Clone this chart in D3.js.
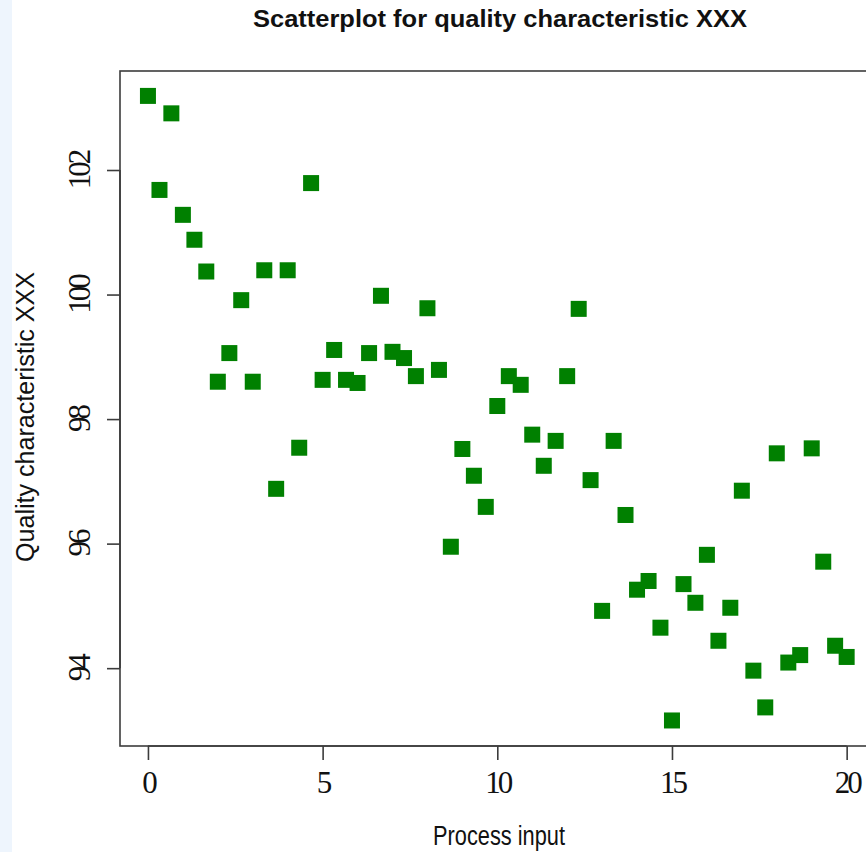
<!DOCTYPE html>
<html>
<head>
<meta charset="utf-8">
<script src="https://cdn.jsdelivr.net/npm/d3@7"></script>
<style>
  body { margin: 0; background: #fff; }
  svg { display: block; }
</style>
</head>
<body>
<div class="container"></div>
<script>
// Process input (x) for each observation
const processInput = [
  0, 0.33, 0.67, 1, 1.33, 1.67, 2, 2.33, 2.67, 3,
  3.33, 3.67, 4, 4.33, 4.67, 5, 5.33, 5.67, 6, 6.33,
  6.67, 7, 7.33, 7.67, 8, 8.33, 8.67, 9, 9.33, 9.67,
  10, 10.33, 10.67, 11, 11.33, 11.67, 12, 12.33, 12.67, 13,
  13.33, 13.67, 14, 14.33, 14.67, 15, 15.33, 15.67, 16, 16.33,
  16.67, 17, 17.33, 17.67, 18, 18.33, 18.67, 19, 19.33, 19.67,
  20
];

// Quality characteristic XXX (y)
const quality = [
  103.19, 101.68, 102.91, 101.28, 100.88, 100.37, 98.6, 99.06, 99.91, 98.6,
  100.39, 96.88, 100.39, 97.54, 101.79, 98.63, 99.11, 98.63, 98.58, 99.06,
  99.98, 99.08, 98.98, 98.69, 99.78, 98.79, 95.95, 97.52, 97.09, 96.59,
  98.21, 98.69, 98.55, 97.75, 97.25, 97.65, 98.69, 99.77, 97.02, 94.92,
  97.65, 96.46, 95.26, 95.4, 94.65, 93.16, 95.35, 95.05, 95.82, 94.44,
  94.97, 96.85, 93.96, 93.37, 97.45, 94.09, 94.21, 97.53, 95.71, 94.36,
  94.18
];

const xTicks = [0, 5, 10, 15, 20];
const yTicks = [94, 96, 98, 100, 102];

const width = 866;
const height = 852;
const plotLeft = 120;
const plotRight = 874.6;
const plotTop = 71;
const plotBottom = 746;
const axisColor = "#3c3c3c";

const x = d3.scaleLinear().domain([-0.8, 20.8]).range([plotLeft, plotRight]);
const y = d3.scaleLinear().domain([92.75, 103.59]).range([plotBottom, plotTop]);

const svg = d3.select(".container")
  .append("svg")
  .attr("width", width)
  .attr("height", height);

// light blue strip on the left edge
svg.append("rect")
  .attr("x", 0).attr("y", 0)
  .attr("width", 12).attr("height", height)
  .attr("fill", "#eef5fd");

// points
const size = 16;
svg.append("g")
  .selectAll("rect")
  .data(processInput.map((d, i) => [d, quality[i]]))
  .enter()
  .append("rect")
  .attr("x", d => x(d[0]) - size / 2)
  .attr("y", d => y(d[1]) - size / 2)
  .attr("width", size)
  .attr("height", size)
  .attr("fill", "#008000");

// plot box
svg.append("rect")
  .attr("x", plotLeft)
  .attr("y", plotTop)
  .attr("width", plotRight - plotLeft)
  .attr("height", plotBottom - plotTop)
  .attr("fill", "none")
  .attr("stroke", axisColor)
  .attr("stroke-width", 1.6);

// x axis
const xAxis = svg.append("g")
  .attr("transform", `translate(0,${plotBottom})`)
  .call(d3.axisBottom(x).tickValues(xTicks).tickSize(14).tickSizeOuter(0).tickFormat(d3.format("d")));
xAxis.select(".domain")
  .attr("d", `M${x(xTicks[0])},0H${x(xTicks[xTicks.length - 1])}`)
  .attr("stroke", axisColor).attr("stroke-width", 1.6);
xAxis.selectAll(".tick line").attr("stroke", axisColor).attr("stroke-width", 1.6);
xAxis.selectAll(".tick text")
  .attr("y", 47)
  .attr("dy", 0)
  .attr("fill", "#111")
  .attr("font-family", "'Liberation Serif', 'DejaVu Serif', serif")
  .attr("font-size", 31)
  .attr("letter-spacing", -3)
  .attr("text-anchor", "middle");

// y axis
const yAxis = svg.append("g")
  .attr("transform", `translate(${plotLeft},0)`)
  .call(d3.axisLeft(y).tickValues(yTicks).tickSize(13).tickSizeOuter(0).tickFormat(d3.format("d")));
yAxis.select(".domain")
  .attr("d", `M0,${y(yTicks[0])}V${y(yTicks[yTicks.length - 1])}`)
  .attr("stroke", axisColor).attr("stroke-width", 1.6);
yAxis.selectAll(".tick line").attr("stroke", axisColor).attr("stroke-width", 1.6);
yAxis.selectAll(".tick text")
  .attr("x", 0)
  .attr("y", 0)
  .attr("dy", 0)
  .attr("transform", "translate(-30,0) rotate(-90)")
  .attr("fill", "#111")
  .attr("font-family", "'Liberation Serif', 'DejaVu Serif', serif")
  .attr("font-size", 31)
  .attr("letter-spacing", -3)
  .attr("text-anchor", "middle");

// title
svg.append("text")
  .attr("x", 500)
  .attr("y", 27)
  .attr("text-anchor", "middle")
  .attr("font-family", "'Liberation Sans', Arial, sans-serif")
  .attr("font-weight", "bold")
  .attr("font-size", 24)
  .attr("textLength", 494)
  .attr("lengthAdjust", "spacingAndGlyphs")
  .attr("fill", "#111")
  .text("Scatterplot for quality characteristic XXX");

// x label
svg.append("text")
  .attr("x", 499)
  .attr("y", 845)
  .attr("text-anchor", "middle")
  .attr("font-family", "'Liberation Sans', Arial, sans-serif")
  .attr("font-size", 27)
  .attr("textLength", 132)
  .attr("lengthAdjust", "spacingAndGlyphs")
  .attr("fill", "#111")
  .text("Process input");

// y label
svg.append("text")
  .attr("transform", "translate(34,417) rotate(-90)")
  .attr("text-anchor", "middle")
  .attr("font-family", "'Liberation Sans', Arial, sans-serif")
  .attr("font-size", 25)
  .attr("textLength", 290)
  .attr("lengthAdjust", "spacingAndGlyphs")
  .attr("fill", "#111")
  .text("Quality characteristic XXX");
</script>
</body>
</html>
